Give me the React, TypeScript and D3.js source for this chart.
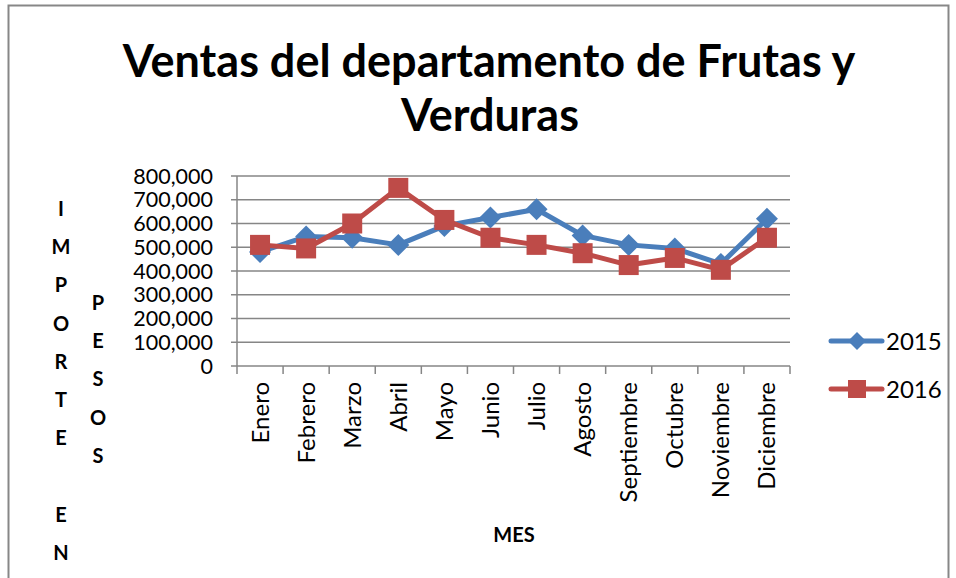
import React from "react";
import * as d3 from "d3";

const meses = ["Enero", "Febrero", "Marzo", "Abril", "Mayo", "Junio", "Julio", "Agosto", "Septiembre", "Octubre", "Noviembre", "Diciembre"];
const ventas2015 = [480000, 545000, 540000, 510000, 590000, 625000, 660000, 550000, 510000, 495000, 430000, 620000];
const ventas2016 = [510000, 495000, 600000, 750000, 615000, 540000, 510000, 475000, 425000, 455000, 405000, 540000];
const yTicks = [0, 100000, 200000, 300000, 400000, 500000, 600000, 700000, 800000];
const tituloY1 = ["I", "M", "P", "O", "R", "T", "E", " ", "E", "N"];
const tituloY2 = ["P", "E", "S", "O", "S"];

const FONT = "Lato, 'Open Sans', sans-serif";
const AZUL = "#4a7ebb";
const ROJO = "#be4b48";

export default function App() {
  const left = 237, right = 790, top = 176, bottom = 366;
  const x = d3.scaleBand<string>().domain(meses).range([left, right]);
  const y = d3.scaleLinear().domain([0, 800000]).range([bottom, top]);
  const fmt = d3.format(",");
  const cx = (m: string) => (x(m) as number) + x.bandwidth() / 2;

  const line = d3.line<number>()
    .x((_, i) => cx(meses[i]))
    .y(d => y(d));

  const diamond = (px: number, py: number, r: number) =>
    `M${px},${py - r}L${px + r},${py}L${px},${py + r}L${px - r},${py}Z`;

  const series = [
    { nombre: "2015", valores: ventas2015, color: AZUL, marca: "diamond" },
    { nombre: "2016", valores: ventas2016, color: ROJO, marca: "square" },
  ];

  return (
    <svg width={956} height={578} style={{ position: "absolute", left: 0, top: 0 }} fontFamily={FONT}>
      <rect x={0} y={0} width={956} height={578} fill="#fff" />
      <rect x={8.5} y={5.5} width={940} height={600} fill="none" stroke="#878787" strokeWidth={2} />

      <text x={489} y={77} textAnchor="middle" fontSize={45} fontWeight="bold">Ventas del departamento de Frutas y</text>
      <text x={490} y={131} textAnchor="middle" fontSize={45} fontWeight="bold">Verduras</text>

      {/* gridlines */}
      {yTicks.map(t => (
        <g key={t}>
          <line x1={left} x2={right} y1={y(t)} y2={y(t)} stroke="#868686" strokeWidth={1.5} />
          <line x1={left - 6} x2={left} y1={y(t)} y2={y(t)} stroke="#868686" strokeWidth={1.5} />
          <text x={213} y={y(t) + 7.5} textAnchor="end" fontSize={21.5}>{t === 0 ? "0" : fmt(t)}</text>
        </g>
      ))}
      <line x1={left} x2={left} y1={top} y2={bottom} stroke="#868686" strokeWidth={1.5} />

      {/* x ticks */}
      {meses.map(m => (
        <line key={m} x1={x(m) as number} x2={x(m) as number} y1={bottom} y2={bottom + 8} stroke="#868686" strokeWidth={1.5} />
      ))}
      <line x1={right} x2={right} y1={bottom} y2={bottom + 8} stroke="#868686" strokeWidth={1.5} />
      {meses.map(m => (
        <text key={m} transform={`translate(${cx(m) + 8.5},${382}) rotate(-90)`} textAnchor="end" fontSize={24}>{m}</text>
      ))}

      {/* series */}
      {series.map(s => (
        <g key={s.nombre}>
          <path d={line(s.valores) || ""} fill="none" stroke={s.color} strokeWidth={5} strokeLinejoin="round" />
          {s.valores.map((v, i) => s.marca === "diamond"
            ? <path key={i} d={diamond(cx(meses[i]), y(v), 11)} fill={s.color} />
            : <rect key={i} x={cx(meses[i]) - 10} y={y(v) - 10} width={20} height={20} fill={s.color} />)}
        </g>
      ))}

      {/* legend */}
      {series.map((s, i) => {
        const ly = 341 + i * 48;
        return (
          <g key={s.nombre}>
            <line x1={831} x2={882} y1={ly} y2={ly} stroke={s.color} strokeWidth={5} strokeLinecap="round" />
            {s.marca === "diamond"
              ? <path d={diamond(857, ly, 9)} fill={s.color} />
              : <rect x={848} y={ly - 9} width={18} height={18} fill={s.color} />}
            <text x={886} y={ly + 9} fontSize={24}>{s.nombre}</text>
          </g>
        );
      })}

      {/* y axis title */}
      {tituloY1.map((c, i) => (
        <text key={"a" + i} x={61} y={216 + i * 38.2} textAnchor="middle" fontSize={20} fontWeight="bold">{c}</text>
      ))}
      {tituloY2.map((c, i) => (
        <text key={"b" + i} x={98} y={310 + i * 38.2} textAnchor="middle" fontSize={20} fontWeight="bold">{c}</text>
      ))}

      <text x={514} y={542} textAnchor="middle" fontSize={20} fontWeight="bold">MES</text>
    </svg>
  );
}
